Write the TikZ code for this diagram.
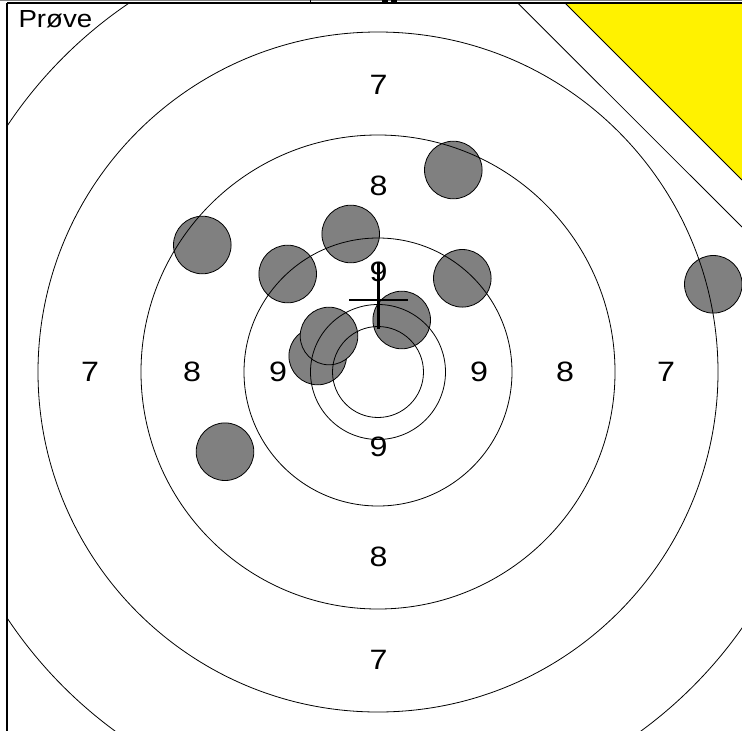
\documentclass[tikz,border=0pt]{standalone}
\usepackage{fontspec}
\setmainfont{Liberation Sans}
\usetikzlibrary{positioning}

\begin{document}
\begin{tikzpicture}[
    x=1pt, y=-1pt,
    ring/.style={draw=black, line width=0.8pt},
    hole/.style={circle, draw=black, line width=0.8pt, fill=gray, minimum size=57.6pt, inner sep=0pt},
    score/.style={inner sep=0pt, xscale=1.15, font=\fontsize{28}{30}\selectfont},
    cross/.style={line width=2.6pt}
]
\useasboundingbox (0,0) rectangle (742,731);
\begin{scope}
\clip (7,3) rectangle (742,731);
% shot holes
\foreach \name/\px/\py in {hA/202.3/245, hB/453.3/170, hC/350.7/234, hD/287.7/274,
    hE/462.3/278.3, hF/401.7/320, hH/317.7/356, hG/329/336, hI/225/451.7, hJ/713.3/284.3}
    \node[hole] (\name) at (\px,\py) {};
% rings
\coordinate (c) at (378,372);
\foreach \r in {45.5, 67.5, 134, 237, 340, 445}
    \draw[ring] (c) circle[radius=\r];
% corner
\fill[yellow] (565,3) -- (742,3) -- (742,180) -- cycle;
\draw[ring] (565,3) -- (742,180);
\draw[ring] (517.7,3) -- (742,227);
\end{scope}
% frame
\draw[gray, line width=1pt] (0,0.8) -- (742,0.8);
\draw[black, line width=1.2pt] (7,3) -- (742,3);
\draw[black, line width=1.2pt] (7,3) -- (7,731);
\draw[black, line width=0.8pt] (310.7,0) -- (310.7,3);
\fill[black] (382,0) rectangle (388,2);
\fill[black] (391,0) rectangle (397,2);
% scores
\node[score] (s7t) at (378.5,84.5) {7};
\node[score] (s8t) at (378.5,186) {8};
\node[score] (s9t) at (378.5,271.7) {9};
\node[score] (s9b) at (378.5,447) {9};
\node[score] (s8b) at (378.5,557) {8};
\node[score] (s7b) at (378.5,660) {7};
\node[score] (s7l) at (90,371.7) {7};
\node[score] (s8l) at (192,371.7) {8};
\node[score] (s9l) at (278,371.7) {9};
\node[score] (s9r) at (479,371.7) {9};
\node[score] (s8r) at (565,371.7) {8};
\node[score] (s7r) at (666,371.7) {7};
\node[anchor=base west, inner sep=0pt, xscale=1.12, font=\fontsize{24.7}{27}\selectfont] (title) at (18.3,27.7) {Prøve};
% aim mark
\draw[cross] (378.3,263) -- (378.3,329);
\draw[cross] (349.3,300) -- (408.3,300);
\end{tikzpicture}
\end{document}
